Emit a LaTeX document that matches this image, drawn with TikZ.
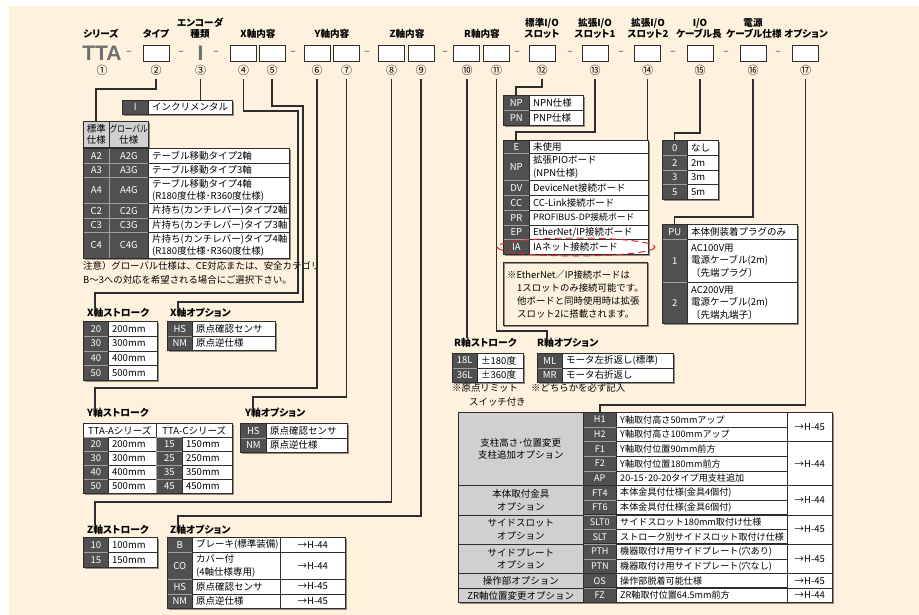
\documentclass[tikz,border=0pt]{standalone}
\usepackage{fontspec}
\usepackage{graphicx}
\setmainfont{Noto Sans CJK JP}
\newfontfamily\pf{Noto Sans CJK JP}[RawFeature=+palt]
\newfontfamily\lib{Liberation Sans}
\usetikzlibrary{calc}
\definecolor{cream}{RGB}{254,242,222}
\definecolor{dk}{RGB}{80,80,80}
\definecolor{lg}{RGB}{208,208,208}
\definecolor{ln}{RGB}{45,45,45}
\definecolor{sep}{RGB}{160,160,160}
\definecolor{shd}{RGB}{150,140,128}
\definecolor{ttag}{RGB}{110,110,110}
\definecolor{redd}{RGB}{222,40,40}
\newcommand\tfz{\fontsize{9.5}{12.5}\selectfont}
\newcommand\cel[7]{%
  \pgfmathsetmacro\celw{#4-#2}\pgfmathsetmacro\celh{#5-#3}%
  \node[cellbase,#6,minimum width=\celw pt,minimum height=\celh pt] (#1) at (#2,#3) {#7};}
\newcommand\celL[6]{%
  \cel{#1}{#2}{#3}{#4}{#5}{wc}{}%
  \node[anchor=west,inner sep=0pt,align=left,font=\tfz] (#1t) at ([xshift=4pt]#1.west) {#6};}
\newcommand\rtwo[8]{\cel{#1a}{#2}{#5}{#3}{#6}{dkc}{#7}\celL{#1b}{#3}{#5}{#4}{#6}{#8}}
\newcommand\tablelist{122/100/232/114, 83/121/148/147, 83/148/289/258, 83/321/157/380, 167/321/275/350, 83/423/232/493, 240/423/347/452, 83/537/157/567, 167/537/345/608, 452/353/523/382, 537/353/673/382, 503/95/583/125, 503/140/648/254, 662/140/718/199, 662/224/797/323, 458/412/832/602.45}
\tikzset{
 conn/.style={draw=ln, line width=1.1pt},
 hbox/.style={draw=ln, fill=white, line width=0.8pt, minimum width=26pt, minimum height=16pt, inner sep=0pt},
 hl/.style={font=\pf\bfseries\fontsize{9.6}{11}\selectfont, inner sep=0pt},
 cn/.style={font=\fontsize{11}{12}\selectfont, inner sep=0pt, minimum height=18pt},
 ds/.style={font=\fontsize{10}{11}\selectfont, inner sep=0pt, text=ln},
 big/.style={font=\lib\bfseries\fontsize{21}{22}\selectfont, inner sep=0pt, text=ttag},
 cellbase/.style={anchor=north west, inner sep=0pt, draw=ln, line width=0.6pt, align=center, font=\tfz},
 dkc/.style={fill=dk, draw=sep, text=white},
 lgc/.style={fill=lg},
 wc/.style={fill=white},
 tl/.style={font=\pf\bfseries\fontsize{9.8}{11}\selectfont, inner sep=0pt, anchor=west},
 nt/.style={font=\fontsize{9.4}{11}\selectfont, inner sep=0pt, anchor=west},
 outl/.style={draw=ln, line width=0.8pt},
 shad/.style={fill=shd},
}
\begin{document}
\begin{tikzpicture}[x=1pt,y=-1pt]
\useasboundingbox (0,0) rectangle (919,615);
\fill[white] (0,0) rectangle (919,615);
\fill[cream] (9,6) rectangle (919,615);
% table shadows
\foreach \xa/\ya/\xb/\yb in \tablelist {\fill[shad] (\xa+1.6,\ya+1.6) rectangle (\xb+1.6,\yb+1.6);}
\draw[shd, line width=1.6pt] (504.6,263.6) rectangle (648.6,326.6);

% ---------- header ----------
\node[hl] (h1) at (101,34) {シリーズ};
\node[hl] (h2) at (156,34) {タイプ};
\node[hl] (h3a) at (200,23) {エンコーダ};
\node[hl] (h3b) at (200,34) {種類};
\node[hl] (h45) at (258,34) {X軸内容};
\node[hl] (h67) at (332,34) {Y軸内容};
\node[hl] (h89) at (407,34) {Z軸内容};
\node[hl] (h1011) at (482,34) {R軸内容};
\node[hl] (h12a) at (542,23) {標準I/O};
\node[hl] (h12b) at (542,34) {スロット};
\node[hl] (h13a) at (595,23) {拡張I/O};
\node[hl] (h13b) at (595,34) {スロット1};
\node[hl] (h14a) at (648,23) {拡張I/O};
\node[hl] (h14b) at (648,34) {スロット2};
\node[hl] (h15a) at (700,23) {I/O};
\node[hl] (h15b) at (699,34) {ケーブル長};
\node[hl] (h16a) at (753,23) {電源};
\node[hl] (h16b) at (754,34) {ケーブル仕様};
\node[hl] (h17) at (806,34) {オプション};

\node[big] (tta) at (102,53) {TTA};
\node[big] (enc) at (200.5,53) {I};
\foreach \nm/\xx in {b2/156,b4/243.5,b5/272,b6/317,b7/346.5,b8/391.5,b9/421,b10/466,b11/496,b12/542,b13/595,b14/647.5,b15/700,b16/753,b17/805.5}
  {\node[hbox] (\nm) at (\xx,53) {};}
\foreach \nm/\xx in {d1/129,d2/181,d3/216,d4/293,d5/367,d6/445,d7/517,d8/570,d9/621,d10/673,d11/726,d12/778}
  {\node[ds] (\nm) at (\xx,53) {–};}
\node[cn] (c1) at (102,70) {①};
\node[cn] (c2) at (156,70) {②};
\node[cn] (c3) at (200.5,70) {③};
\node[cn] (c4) at (243.5,70) {④};
\node[cn] (c5) at (272,70) {⑤};
\node[cn] (c6) at (317,70) {⑥};
\node[cn] (c7) at (346.5,70) {⑦};
\node[cn] (c8) at (391.5,70) {⑧};
\node[cn] (c9) at (421,70) {⑨};
\node[cn] (c10) at (467,70) {⑩};
\node[cn] (c11) at (496.5,70) {⑪};
\node[cn] (c12) at (542,70) {⑫};
\node[cn] (c13) at (595,70) {⑬};
\node[cn] (c14) at (647.5,70) {⑭};
\node[cn] (c15) at (700,70) {⑮};
\node[cn] (c16) at (753,70) {⑯};
\node[cn] (c17) at (805.5,70) {⑰};

% ---------- encoder ----------
\cel{idk}{122}{100}{148}{114}{dkc}{I}
\celL{iwt}{148}{100}{232}{114}{インクリメンタル}

% ---------- type table ----------
\cel{th1}{83}{121}{109}{147}{lgc,font=\fontsize{9.5}{11}\selectfont}{標準\\仕様}
\cel{th2}{109}{121}{148}{147}{lgc,font=\fontsize{9.5}{11}\selectfont}{\scalebox{0.8}[1]{グローバル}\\仕様}
\cel{ta1}{83}{148}{109}{163}{dkc}{A2}\cel{tb1}{109}{148}{148}{163}{dkc}{A2G}\celL{tc1}{148}{148}{289}{163}{テーブル移動タイプ2軸}
\cel{ta2}{83}{163}{109}{177}{dkc}{A3}\cel{tb2}{109}{163}{148}{177}{dkc}{A3G}\celL{tc2}{148}{163}{289}{177}{テーブル移動タイプ3軸}
\cel{ta3}{83}{177}{109}{203}{dkc}{A4}\cel{tb3}{109}{177}{148}{203}{dkc}{A4G}\celL{tc3}{148}{177}{289}{203}{テーブル移動タイプ4軸\\(R180度仕様･R360度仕様)}
\cel{ta4}{83}{203}{109}{218}{dkc}{C2}\cel{tb4}{109}{203}{148}{218}{dkc}{C2G}\celL{tc4}{148}{203}{289}{218}{片持ち(カンチレバー)タイプ2軸}
\cel{ta5}{83}{218}{109}{232}{dkc}{C3}\cel{tb5}{109}{218}{148}{232}{dkc}{C3G}\celL{tc5}{148}{218}{289}{232}{片持ち(カンチレバー)タイプ3軸}
\cel{ta6}{83}{232}{109}{258}{dkc}{C4}\cel{tb6}{109}{232}{148}{258}{dkc}{C4G}\celL{tc6}{148}{232}{289}{258}{片持ち(カンチレバー)タイプ4軸\\(R180度仕様･R360度仕様)}
\node[nt] (tn1) at (83,266) {注意）グローバル仕様は、CE対応または、安全カテゴリ};
\node[nt] (tn2) at (83,280) {B～3への対応を希望される場合にご選択下さい。};

% ---------- X axis ----------
\node[tl] (xsl) at (87,313) {X軸ストローク};
\rtwo{xs1}{83}{108}{157}{321}{336}{20}{200mm}
\rtwo{xs2}{83}{108}{157}{336}{350.5}{30}{300mm}
\rtwo{xs3}{83}{108}{157}{350.5}{365}{40}{400mm}
\rtwo{xs4}{83}{108}{157}{365}{380}{50}{500mm}
\node[tl] (xol) at (170,313) {X軸オプション};
\rtwo{xo1}{167}{192}{275}{321}{335.5}{HS}{原点確認センサ}
\rtwo{xo2}{167}{192}{275}{335.5}{350}{NM}{原点逆仕様}

% ---------- Y axis ----------
\node[tl] (ysl) at (87,413) {Y軸ストローク};
\cel{ysh1}{83}{423}{156}{437}{wc}{TTA-Aシリーズ}
\cel{ysh2}{156}{423}{232}{437}{wc}{TTA-Cシリーズ}
\rtwo{ysa1}{83}{108}{156}{437}{451}{20}{200mm}
\rtwo{ysa2}{83}{108}{156}{451}{465}{30}{300mm}
\rtwo{ysa3}{83}{108}{156}{465}{479}{40}{400mm}
\rtwo{ysa4}{83}{108}{156}{479}{493}{50}{500mm}
\rtwo{ysc1}{156}{182}{232}{437}{451}{15}{150mm}
\rtwo{ysc2}{156}{182}{232}{451}{465}{25}{250mm}
\rtwo{ysc3}{156}{182}{232}{465}{479}{35}{350mm}
\rtwo{ysc4}{156}{182}{232}{479}{493}{45}{450mm}
\node[tl] (yol) at (245,413) {Y軸オプション};
\rtwo{yo1}{240}{266}{347}{423}{437.5}{HS}{原点確認センサ}
\rtwo{yo2}{240}{266}{347}{437.5}{452}{NM}{原点逆仕様}

% ---------- Z axis ----------
\node[tl] (zsl) at (87,530) {Z軸ストローク};
\rtwo{zs1}{83}{108}{157}{537}{552}{10}{100mm}
\rtwo{zs2}{83}{108}{157}{552}{567}{15}{150mm}
\node[tl] (zol) at (170,530) {Z軸オプション};
\rtwo{zo1}{167}{192}{280}{537}{552}{B}{ブレーキ(標準装備)}
\rtwo{zo2}{167}{192}{280}{552}{579}{CO}{カバー付\\(4軸仕様専用)}
\rtwo{zo3}{167}{192}{280}{579}{593.5}{HS}{原点確認センサ}
\rtwo{zo4}{167}{192}{280}{593.5}{608}{NM}{原点逆仕様}
\cel{zr1}{280}{537}{345}{552}{wc}{→H-44}
\cel{zr2}{280}{552}{345}{579}{wc}{→H-44}
\cel{zr3}{280}{579}{345}{593.5}{wc}{→H-45}
\cel{zr4}{280}{593.5}{345}{608}{wc}{→H-45}

% ---------- R axis ----------
\node[tl] (rsl) at (454,343) {R軸ストローク};
\rtwo{rs1}{452}{477}{523}{353}{367.5}{18L}{±180度}
\rtwo{rs2}{452}{477}{523}{367.5}{382}{36L}{±360度}
\node[nt] (rn1) at (452,388) {※原点リミット};
\node[nt] (rn2) at (469,402) {スイッチ付き};
\node[tl] (rol) at (537,343) {R軸オプション};
\rtwo{ro1}{537}{562}{673}{353}{367.5}{ML}{モータ左折返し(標準)}
\rtwo{ro2}{537}{562}{673}{367.5}{382}{MR}{モータ右折返し}
\node[nt] (rn3) at (531,388) {※どちらかを必ず記入};

% ---------- I/O slots ----------
\rtwo{np1}{503}{529}{583}{95}{110}{NP}{NPN仕様}
\rtwo{np2}{503}{529}{583}{110}{125}{PN}{PNP仕様}
\rtwo{ioE}{503}{529}{648}{140}{153}{E}{未使用}
\rtwo{ioN}{503}{529}{648}{153}{180}{NP}{拡張PIOボード\\(NPN仕様)}
\rtwo{ioD}{503}{529}{648}{180}{195}{DV}{DeviceNet接続ボード}
\rtwo{ioC}{503}{529}{648}{195}{210}{CC}{CC-Link接続ボード}
\rtwo{ioP}{503}{529}{648}{210}{224.5}{PR}{{\fontsize{8.8}{10}\selectfont PROFIBUS-DP接続ボード}}
\rtwo{ioT}{503}{529}{648}{224.5}{239}{EP}{EtherNet/IP接続ボード}
\rtwo{ioI}{503}{529}{648}{239}{254}{IA}{IAネット接続ボード}
\node[cellbase, draw=ln, line width=0.8pt, fill=none, minimum width=144pt, minimum height=63pt] (nb) at (503,262) {};
\node[nt] (n1) at (507,275) {※EtherNet／IP接続ボードは};
\node[nt] (n2) at (517,288) {1スロットのみ接続可能です。};
\node[nt] (n3) at (517,301) {他ボードと同時使用時は拡張};
\node[nt] (n4) at (517,314) {スロット2に搭載されます。};

% ---------- cable / power ----------
\rtwo{cb0}{662}{687}{718}{140}{155}{0}{なし}
\rtwo{cb2}{662}{687}{718}{155}{170}{2}{2m}
\rtwo{cb3}{662}{687}{718}{170}{184.5}{3}{3m}
\rtwo{cb5}{662}{687}{718}{184.5}{199}{5}{5m}
\rtwo{pwU}{662}{687}{797}{224}{239}{PU}{本体側装着プラグのみ}
\rtwo{pw1}{662}{687}{797}{239}{282}{1}{AC100V用\\電源ケーブル(2m)\\〔先端プラグ〕}
\rtwo{pw2}{662}{687}{797}{282}{323}{2}{AC200V用\\電源ケーブル(2m)\\〔先端丸端子〕}

% ---------- options table ----------
\renewcommand\tfz{\fontsize{9.1}{12}\selectfont}
\foreach \mycode/\mydesc [count=\rr from 0] in {H1/Y軸取付高さ50mmアップ, H2/Y軸取付高さ100mmアップ, F1/Y軸取付位置90mm前方, F2/Y軸取付位置180mm前方, AP/20-15･20-20タイプ用支柱追加, FT4/本体金具付仕様(金具4個付), FT6/本体金具付仕様(金具6個付), SLT0/サイドスロット180mm取付け仕様, SLT/ストローク別サイドスロット取付け仕様, PTH/機器取付け用サイドプレート(穴あり), PTN/機器取付け用サイドプレート(穴なし), OS/操作部脱着可能仕様, FZ/ZR軸取付位置64.5mm前方}
{\pgfmathsetmacro\ya{412+14.65*\rr}\pgfmathsetmacro\yb{412+14.65*(\rr+1)}%
 \cel{opc\rr}{583}{\ya}{616}{\yb}{dkc}{\mycode}%
 \celL{opd\rr}{616}{\ya}{787}{\yb}{\mydesc}}
\renewcommand\tfz{\fontsize{9.5}{12.5}\selectfont}
\cel{cat1}{458}{412}{583}{485.25}{lgc}{支柱高さ･位置変更\\支柱追加オプション}
\cel{cat2}{458}{485.25}{583}{514.55}{lgc}{本体取付金具\\オプション}
\cel{cat3}{458}{514.55}{583}{543.85}{lgc}{サイドスロット\\オプション}
\cel{cat4}{458}{543.85}{583}{573.15}{lgc}{サイドプレート\\オプション}
\cel{cat5}{458}{573.15}{583}{587.8}{lgc}{操作部オプション}
\cel{cat6}{458}{587.8}{583}{602.45}{lgc}{ZR軸位置変更オプション}
\cel{ref1}{787}{412}{832}{441.3}{wc}{→H-45}
\cel{ref2}{787}{441.3}{832}{485.25}{wc}{→H-44}
\cel{ref3}{787}{485.25}{832}{514.55}{wc}{→H-44}
\cel{ref4}{787}{514.55}{832}{543.85}{wc}{→H-45}
\cel{ref5}{787}{543.85}{832}{573.15}{wc}{→H-45}
\cel{ref6}{787}{573.15}{832}{587.8}{wc}{→H-45}
\cel{ref7}{787}{587.8}{832}{602.45}{wc}{→H-44}
\draw[outl] (583,485.25) -- (787,485.25) (583,514.55) -- (787,514.55) (583,543.85) -- (787,543.85) (583,573.15) -- (787,573.15) (583,587.8) -- (787,587.8);

% table outlines
\foreach \xa/\ya/\xb/\yb in \tablelist {\draw[outl] (\xa,\ya) rectangle (\xb,\yb);}
\draw[redd, line width=1pt, dash pattern=on 7pt off 4pt] (576,247) ellipse [x radius=79, y radius=9];

% ---------- connectors ----------
\coordinate (k2) at (96,89);
\draw[conn] (c2.south) |- (k2) -- (k2 |- th1.north);
\draw[conn] (c3.south) -- (c3.south |- iwt.north);
\coordinate (k4a) at (298,111); \coordinate (k4b) at (95,293);
\draw[conn] (c4.south) |- (k4a) |- (k4b) -- (k4b |- xsl.north);
\coordinate (k5a) at (303,106); \coordinate (k5b) at (178,302);
\draw[conn] (c5.south) |- (k5a) |- (k5b) -- (k5b |- xol.north);
\coordinate (k6) at (95,388);
\draw[conn] (c6.south) |- (k6) -- (k6 |- ysl.north);
\coordinate (k7) at (253,397);
\draw[conn] (c7.south) |- (k7) -- (k7 |- yol.north);
\coordinate (k8) at (95,502);
\draw[conn] (c8.south) |- (k8) -- (k8 |- zsl.north);
\coordinate (k9) at (178,516);
\draw[conn] (c9.south) |- (k9) -- (k9 |- zol.north);
\draw[conn] (c10.south) -- (c10.south |- rsl.north);
\coordinate (k11) at (547,331);
\draw[conn] (c11.south) |- (k11) -- (k11 |- rol.north);
\coordinate (k12) at (516,87);
\draw[conn] (c12.south) |- (k12) -- (k12 |- np1a.north);
\coordinate (k13) at (516,132);
\draw[conn] (c13.south) |- (k13) -- (k13 |- ioEa.north);
\draw[conn] (c14.south) -- (c14.south |- ioEb.north);
\coordinate (k15) at (674.5,133);
\draw[conn] (c15.south) |- (k15) -- (k15 |- cb0a.north);
\coordinate (k16) at (674.5,217);
\draw[conn] (c16.south) |- (k16) -- (k16 |- pwUa.north);
\coordinate (k17) at (600,405);
\draw[conn] (c17.south) |- (k17) -- (k17 |- opc0.north);
\end{tikzpicture}
\end{document}
